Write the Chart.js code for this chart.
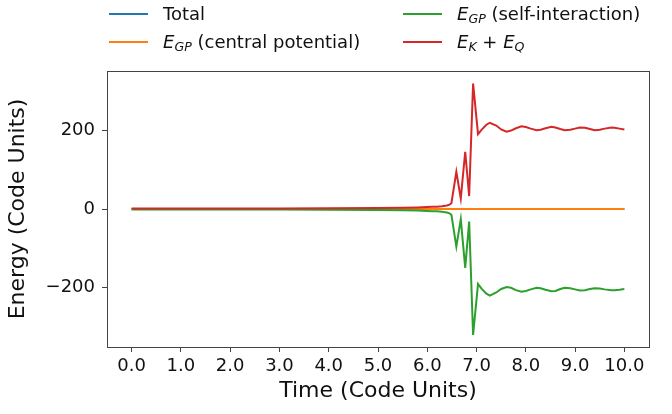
<!DOCTYPE html>
<html>
<head>
<meta charset="utf-8">
<script src="https://cdn.jsdelivr.net/npm/chart.js@4.4.1/dist/chart.umd.min.js"></script>
<style>
    body { margin: 0; background: #fff; font-family: "DejaVu Sans", sans-serif; }
    #wrap { position: relative; width: 672px; height: 414px; }
    #legend { position: absolute; left: 0; top: 0; width: 672px; height: 60px; font-size: 18px; color: #111; }
    .item { position: absolute; display: flex; align-items: center; white-space: nowrap; line-height: 21px; }
    .swatch { width: 39px; height: 2px; margin-right: 15px; }
    .item i sub { font-size: 0.7em; font-style: italic; line-height: 0; vertical-align: -0.25em; }
</style>
</head>
<body>
<div id="wrap">
    <canvas id="energyChart" width="672" height="414"></canvas>
    <div id="legend">
        <div class="item" style="left:109px; top:3px;"><span class="swatch" style="background:#1f77b4"></span>Total</div>
        <div class="item" style="left:109px; top:31px;"><span class="swatch" style="background:#ff7f0e"></span><span><i>E<sub>GP</sub></i> (central potential)</span></div>
        <div class="item" style="left:403px; top:3px;"><span class="swatch" style="background:#2ca02c"></span><span><i>E<sub>GP</sub></i> (self-interaction)</span></div>
        <div class="item" style="left:403px; top:31px;"><span class="swatch" style="background:#d62728"></span><span><i>E<sub>K</sub></i> + <i>E<sub>Q</sub></i></span></div>
    </div>
</div>
<script>
// --- DATA ---
const times = [0, 1, 2, 3, 4, 5, 5.5, 5.8, 6.0, 6.1, 6.2, 6.3, 6.4, 6.45, 6.49,
    6.59, 6.68, 6.77, 6.85, 6.93, 7.03, 7.1, 7.2, 7.27, 7.4, 7.5, 7.61, 7.7, 7.8, 7.91,
    8.0, 8.1, 8.22, 8.3, 8.4, 8.52, 8.6, 8.7, 8.79, 8.9, 9.0, 9.1, 9.2, 9.3, 9.4,
    9.5, 9.6, 9.74, 9.8, 9.9, 10.0];

const totalEnergy = [0, 0, 0, 0, 0, 0, 0, 0, 0, 0, 0, 0, 0, 0, 0,
    0, 0, 0, 0, 0, 0, 0, 0, 0, 0, 0, 0, 0, 0, 0,
    0, 0, 0, 0, 0, 0, 0, 0, 0, 0, 0, 0, 0, 0, 0,
    0, 0, 0, 0, 0, 0];

const centralPotential = [0, 0, 0, 0, 0, 0, 0, 0, 0, 0, 0, 0, 0, 0, 0,
    0, 0, 0, 0, 0, 0, 0, 0, 0, 0, 0, 0, 0, 0, 0,
    0, 0, 0, 0, 0, 0, 0, 0, 0, 0, 0, 0, 0, 0, 0,
    0, 0, 0, 0, 0, 0];

const selfInteraction = [-1, -1, -1.5, -1.5, -2, -2.5, -3, -4, -5, -5.5, -6, -7, -9, -11, -15,
    -96, -26, -150, -32, -321, -191, -203, -216, -221, -213, -204, -199, -201, -207, -211,
    -209, -205, -201, -202, -206, -210, -209, -204, -201, -202, -205, -208, -207, -204, -202,
    -203, -205, -207, -207, -206, -204];

const kineticQuantum = [1, 1, 1.5, 1.5, 2, 2.5, 3, 4, 5, 5.5, 6, 7, 9, 11, 15,
    95, 27, 146, 33, 320, 191, 202, 215, 220, 213, 203, 197, 200, 206, 211,
    209, 205, 201, 202, 206, 210, 208, 204, 201, 202, 205, 208, 207, 204, 201,
    202, 205, 208, 207, 205, 203];

const xTicks = [0, 1, 2, 3, 4, 5, 6, 7, 8, 9, 10];
const yTicks = [-200, 0, 200];

// --- BUILD ---
const toPoints = (arr) => times.map((t, i) => ({ x: t, y: arr[i] }));

// frame round the plot area (matplotlib box)
const framePlugin = {
    id: 'frame',
    afterDraw(chart) {
        const { ctx, chartArea: a } = chart;
        ctx.save();
        ctx.strokeStyle = '#444';
        ctx.lineWidth = 1;
        ctx.strokeRect(a.left + 0.5, a.top + 0.5, a.right - a.left, a.bottom - a.top);
        ctx.restore();
    }
};

const line = (data, color, order) => ({
    data: toPoints(data),
    borderColor: color,
    backgroundColor: color,
    borderWidth: 2,
    pointRadius: 0,
    tension: 0,
    fill: false,
    order: order
});

const ctx = document.getElementById('energyChart').getContext('2d');
new Chart(ctx, {
    type: 'line',
    data: {
        datasets: [
            line(totalEnergy, '#1f77b4', 4),
            line(centralPotential, '#ff7f0e', 3),
            line(selfInteraction, '#2ca02c', 2),
            line(kineticQuantum, '#d62728', 1)
        ]
    },
    options: {
        responsive: false,
        animation: false,
        events: [],
        layout: { padding: { left: 0, right: 23, top: 71, bottom: 0 } },
        plugins: { legend: { display: false }, tooltip: { enabled: false } },
        scales: {
            x: {
                type: 'linear',
                min: -0.5,
                max: 10.5,
                afterBuildTicks: (s) => { s.ticks = xTicks.map(v => ({ value: v })); },
                afterFit: (s) => { s.height = 67; },
                ticks: {
                    color: '#111',
                    font: { family: 'DejaVu Sans', size: 18 },
                    padding: 4,
                    maxRotation: 0,
                    autoSkip: false,
                    callback: (v) => v.toFixed(1)
                },
                grid: { drawOnChartArea: false, drawTicks: true, tickLength: 5, color: '#444' },
                border: { display: false },
                title: {
                    display: true,
                    text: 'Time (Code Units)',
                    color: '#111',
                    font: { family: 'DejaVu Sans', size: 22 },
                    padding: { top: 0, bottom: 10 }
                }
            },
            y: {
                min: -352,
                max: 352,
                afterBuildTicks: (s) => { s.ticks = yTicks.map(v => ({ value: v })); },
                afterFit: (s) => { s.width = 107; },
                ticks: {
                    color: '#111',
                    font: { family: 'DejaVu Sans', size: 18 },
                    padding: 7,
                    callback: (v) => v < 0 ? '\u2212' + Math.abs(v) : String(v)
                },
                grid: { drawOnChartArea: false, drawTicks: true, tickLength: 5, color: '#444' },
                border: { display: false },
                title: {
                    display: true,
                    text: 'Energy (Code Units)',
                    color: '#111',
                    font: { family: 'DejaVu Sans', size: 22 },
                    padding: { top: 5, bottom: 0 }
                }
            }
        }
    },
    plugins: [framePlugin]
});
</script>
</body>
</html>
